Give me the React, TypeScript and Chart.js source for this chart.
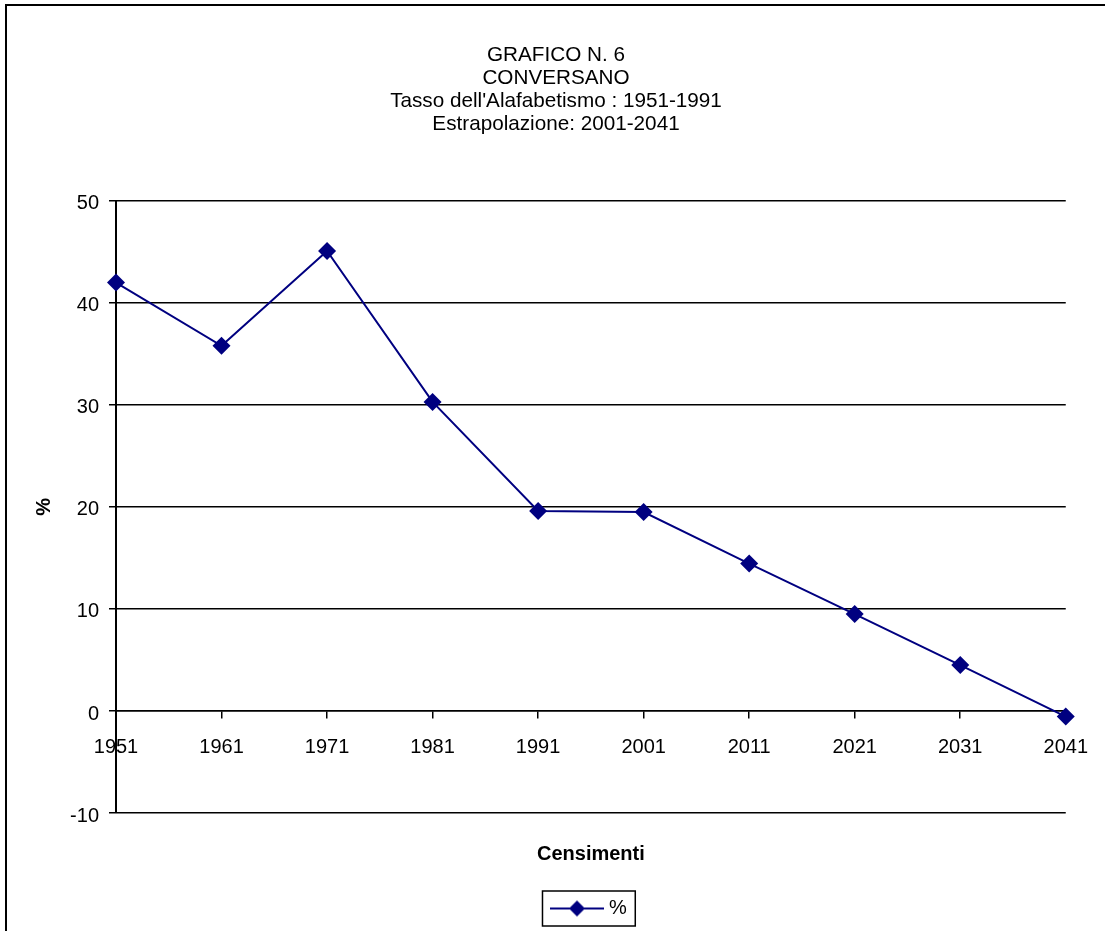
import React, { useEffect, useRef } from "react";
import { Chart, registerables } from "chart.js";

Chart.register(...registerables);

const titleLines: string[] = [
  "GRAFICO N. 6",
  "CONVERSANO",
  "Tasso dell'Alafabetismo : 1951-1991",
  "Estrapolazione: 2001-2041",
];
const censusYears: string[] = ["1951", "1961", "1971", "1981", "1991", "2001", "2011", "2021", "2031", "2041"];
const percentValues: number[] = [42.0, 35.8, 45.1, 30.3, 19.6, 19.5, 14.45, 9.5, 4.5, -0.55];
const seriesLabel = "%";
const xAxisTitle = "Censimenti";
const yAxisTitle = "%";
const yMin = -10;
const yMax = 50;
const yStep = 10;

const NAVY = "#000080";
const FONT = "'Liberation Sans', Arial, Helvetica, sans-serif";

function makeLegendImage(): HTMLCanvasElement {
  const c = document.createElement("canvas");
  c.width = 54;
  c.height = 20;
  const ctx = c.getContext("2d")!;
  ctx.strokeStyle = NAVY;
  ctx.lineWidth = 2;
  ctx.beginPath();
  ctx.moveTo(0, 10);
  ctx.lineTo(54, 10);
  ctx.stroke();
  ctx.fillStyle = NAVY;
  ctx.beginPath();
  ctx.moveTo(27, 2);
  ctx.lineTo(35, 10);
  ctx.lineTo(27, 18);
  ctx.lineTo(19, 10);
  ctx.closePath();
  ctx.fill();
  return c;
}

const legendFrame = {
  id: "legendFrame",
  afterDraw(chart: any) {
    const lg = chart.legend;
    if (!lg || !lg.legendHitBoxes || !lg.legendHitBoxes.length) return;
    const hb = lg.legendHitBoxes[0];
    const cy = hb.top + hb.height / 2;
    const ctx = chart.ctx;
    ctx.save();
    ctx.strokeStyle = "#000";
    ctx.lineWidth = 1.5;
    ctx.strokeRect(hb.left - 12.5, cy - 17.5, hb.width + 21, 35);
    ctx.restore();
  },
};

export default function App() {
  const ref = useRef<HTMLCanvasElement | null>(null);

  useEffect(() => {
    if (!ref.current) return;
    Chart.defaults.font.family = FONT;
    const chart = new Chart(ref.current, {
      type: "line",
      data: {
        labels: censusYears,
        datasets: [
          {
            label: seriesLabel,
            data: percentValues,
            borderColor: NAVY,
            backgroundColor: NAVY,
            borderWidth: 2,
            pointStyle: "rectRot",
            pointRadius: 9,
            pointBorderWidth: 0,
            pointBackgroundColor: NAVY,
            tension: 0,
            clip: false as any,
          },
        ],
      },
      plugins: [legendFrame],
      options: {
        responsive: false,
        animation: false,
        layout: { padding: { left: 45, right: 38, top: 0, bottom: 2.5 } },
        plugins: {
          tooltip: { enabled: false },
          title: {
            display: true,
            text: titleLines,
            color: "#000",
            font: { size: 20.7, weight: "normal", lineHeight: 1.11 },
            padding: { top: 44, bottom: 65 },
          },
          subtitle: {
            display: true,
            position: "bottom",
            fullSize: false,
            text: xAxisTitle,
            color: "#000",
            font: { size: 20, weight: "bold", lineHeight: 1.2 },
            padding: { top: 29, bottom: 22.5 },
          },
          legend: {
            display: true,
            position: "bottom",
            fullSize: false,
            weight: 1600,
            labels: {
              usePointStyle: true,
              pointStyle: makeLegendImage() as any,
              pointStyleWidth: 44,
              padding: 10,
              color: "#000",
              font: { size: 20 },
            },
          } as any,
        },
        scales: {
          x: {
            type: "category",
            offset: false,
            position: { y: 0 } as any,
            grid: {
              display: true,
              drawOnChartArea: false,
              drawTicks: true,
              tickLength: 7,
              color: "#000",
              lineWidth: 1.5,
            },
            border: { display: true, color: "#000", width: 1.5 },
            ticks: {
              color: "#000",
              font: { size: 20 },
              padding: 17,
              maxRotation: 0,
              autoSkip: false,
            },
          },
          y: {
            min: yMin,
            max: yMax,
            ticks: { stepSize: yStep, color: "#000", font: { size: 20 }, padding: 10, labelOffset: 3 },
            grid: { color: "#000", lineWidth: 1.5, tickLength: 7 },
            border: { display: true, color: "#000", width: 2 },
            title: {
              display: true,
              text: yAxisTitle,
              color: "#000",
              font: { size: 20, weight: "bold" },
              padding: { top: -13, bottom: 0 },
            },
            afterFit: (s: any) => {
              s.width = 71;
            },
          },
        },
      } as any,
    });
    return () => chart.destroy();
  }, []);

  return (
    <div style={{ position: "fixed", left: 0, top: 0, width: 1105, height: 931, overflow: "hidden", background: "#fff" }}>
      <div
        style={{
          position: "absolute",
          left: 5,
          top: 4,
          width: 1200,
          height: 1100,
          border: "2px solid #000",
          boxSizing: "border-box",
        }}
      />
      <canvas ref={ref} width={1105} height={931} style={{ position: "absolute", left: 0, top: 0 }} />
    </div>
  );
}
